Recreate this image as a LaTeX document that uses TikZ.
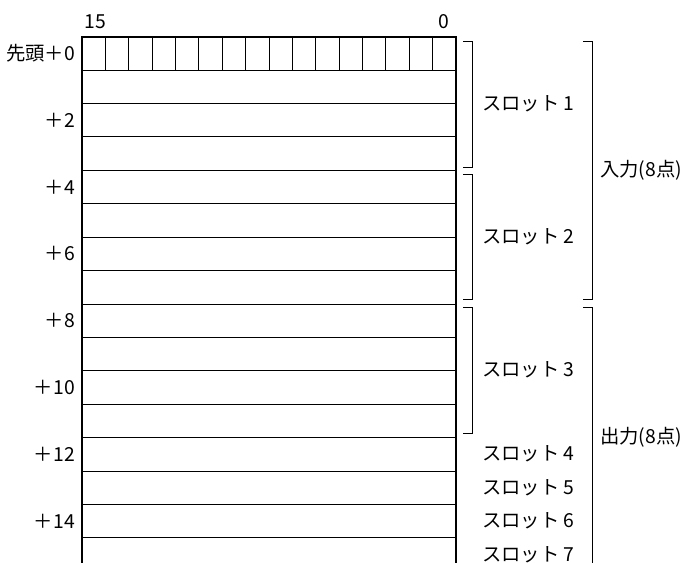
\documentclass[tikz,border=0pt]{standalone}
\usepackage{fontspec}
\setmainfont{Noto Sans CJK JP}
\usetikzlibrary{positioning}
\tikzset{
  frame/.style={line width=1.5pt},
  rowline/.style={line width=0.6pt},
  brk/.style={line width=0.6pt},
  lbl/.style={font=\fontsize{14.5}{16}\selectfont, inner sep=0pt}
}

\begin{document}
\begin{tikzpicture}[x=0.75pt, y=-0.75pt]
    \useasboundingbox (0,0) rectangle (685,563);
    % bit cells of the first word
    \foreach \i in {1,...,15}
      \draw[rowline] ({82+\i*23.375},36.7) -- ({82+\i*23.375},70.1);
    % word rows
    \foreach \r in {1,...,15}
      \draw[rowline] (82,{36.7+\r*33.4}) -- (456,{36.7+\r*33.4});
    \draw[frame] (82,563) -- (82,36.7) -- (456,36.7) -- (456,563);
    \node[lbl] (msb) at (95,22) {15};
    \node[lbl] (lsb) at (444,22) {0};
    % offsets
    \node[lbl, anchor=east] (off0) at (75,53.4) {先頭＋0};
    \foreach \k in {2,4,...,14}
      \node[lbl, anchor=east] (off\k) at (75,{36.7+(\k+0.5)*33.4}) {＋\k};
    % slot brackets
    \draw[brk] (463,41) -- (472,41) -- (472,167) -- (463,167);
    \draw[brk] (463,174) -- (472,174) -- (472,299) -- (463,299);
    \draw[brk] (463,307) -- (472,307) -- (472,433) -- (463,433);
    \node[lbl, anchor=west] (slot1) at (482,104) {スロット 1};
    \node[lbl, anchor=west] (slot2) at (482,237) {スロット 2};
    \node[lbl, anchor=west] (slot3) at (482,370) {スロット 3};
    \foreach \s in {4,...,7}
      \node[lbl, anchor=west] (slot\s) at (482,{36.7+(\s+8.5)*33.4}) {スロット \s};
    % input / output brackets
    \draw[brk] (583,41) -- (592,41) -- (592,299) -- (583,299);
    \draw[brk] (583,307) -- (592,307) -- (592,563);
    \node[lbl, anchor=west] (in) at (600,170) {入力(8点)};
    \node[lbl, anchor=west] (out) at (600,437) {出力(8点)};
\end{tikzpicture}
\end{document}
